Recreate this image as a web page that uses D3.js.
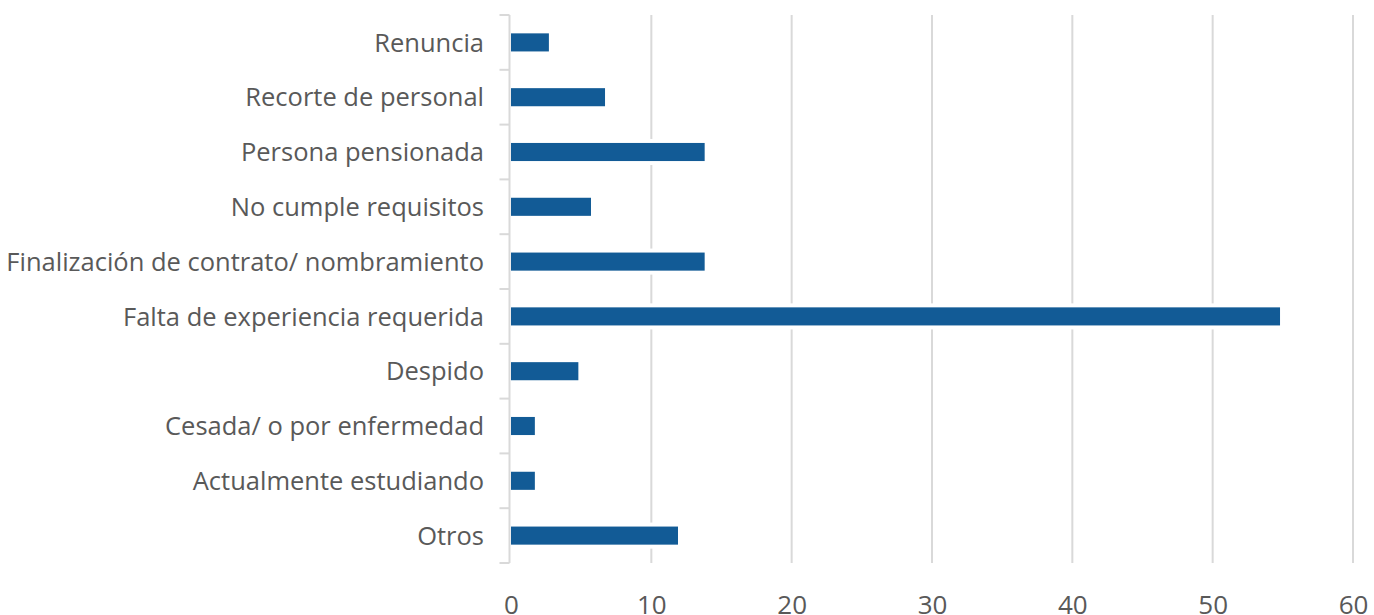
<!DOCTYPE html>
<html>
<head>
<meta charset="utf-8">
<script src="https://cdn.jsdelivr.net/npm/d3@7"></script>
<style>
  html, body { margin: 0; padding: 0; background: #fff; overflow: hidden; }
  text { font-family: "Open Sans", sans-serif; fill: #595959; }
</style>
</head>
<body>
<script>
var categories = [
    'Renuncia',
    'Recorte de personal',
    'Persona pensionada',
    'No cumple requisitos',
    'Finalización de contrato/ nombramiento',
    'Falta de experiencia requerida',
    'Despido',
    'Cesada/ o por enfermedad',
    'Actualmente estudiando',
    'Otros'
];
var values = [2.7, 6.7, 13.8, 5.7, 13.8, 54.8, 4.8, 1.7, 1.7, 11.9];
var xTicks = [0, 10, 20, 30, 40, 50, 60];

var width = 1374;
var height = 615;

var plot = { left: 511, right: 1353, top: 15, bottom: 563 };

var barColor = '#125B96';
var gridColor = '#D9D9D9';

var svg = d3.select('body').append('svg')
    .attr('width', width)
    .attr('height', height);

var x = d3.scaleLinear()
    .domain([0, 60])
    .range([plot.left, plot.right]);

var y = d3.scaleBand()
    .domain(categories)
    .range([plot.top, plot.bottom])
    .paddingInner(0.67)
    .paddingOuter(0.335);

// vertical gridlines
svg.append('g')
    .selectAll('line')
    .data(xTicks.filter(function (d) { return d > 0; }))
    .join('line')
    .attr('x1', function (d) { return x(d); })
    .attr('x2', function (d) { return x(d); })
    .attr('y1', plot.top)
    .attr('y2', plot.bottom)
    .style('stroke', gridColor)
    .style('stroke-width', 2);

// category axis line + ticks between bands
var axisX = x(0) - 1.5;
svg.append('line')
    .attr('x1', axisX).attr('x2', axisX)
    .attr('y1', plot.top).attr('y2', plot.bottom)
    .style('stroke', gridColor)
    .style('stroke-width', 2);

var bounds = categories.map(function (c) { return y(c) - y.step() * y.paddingInner() / 2; });
bounds.push(plot.bottom);
svg.append('g')
    .selectAll('line')
    .data(bounds)
    .join('line')
    .attr('x1', axisX - 10)
    .attr('x2', axisX)
    .attr('y1', function (d) { return d; })
    .attr('y2', function (d) { return d; })
    .style('stroke', gridColor)
    .style('stroke-width', 2);

// white halo so gridlines break around bars
svg.append('g')
    .selectAll('rect')
    .data(values)
    .join('rect')
    .attr('x', x(0))
    .attr('y', function (d, i) { return y(categories[i]) - 4; })
    .attr('width', function (d) { return x(d) - x(0) + 1; })
    .attr('height', y.bandwidth() + 8)
    .style('fill', '#fff');

svg.append('g')
    .selectAll('rect')
    .data(values)
    .join('rect')
    .attr('x', x(0))
    .attr('y', function (d, i) { return y(categories[i]); })
    .attr('width', function (d) { return x(d) - x(0); })
    .attr('height', y.bandwidth())
    .style('fill', barColor);

// category labels
svg.append('g')
    .selectAll('text')
    .data(categories)
    .join('text')
    .attr('x', 484)
    .attr('y', function (d) { return y(d) + y.bandwidth() / 2; })
    .attr('dy', '0.36em')
    .attr('text-anchor', 'end')
    .style('font-size', '25.5px')
    .text(function (d) { return d; });

// value axis labels
var xaxis = d3.axisBottom(x).tickValues(xTicks).tickSize(0).tickPadding(0);
var gx = svg.append('g')
    .attr('transform', 'translate(0,' + 614 + ')')
    .call(xaxis);
gx.select('.domain').remove();
gx.selectAll('text')
    .attr('y', 0)
    .attr('dy', 0)
    .style('font-family', '"Open Sans", sans-serif')
    .style('font-size', '26px')
    .style('fill', '#595959');
</script>
</body>
</html>
